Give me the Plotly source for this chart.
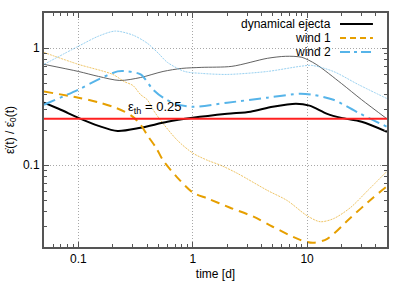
import numpy as np
import plotly.graph_objects as go

# ---------------- data ----------------
eps_th = 0.25

t_dyn = [0.05, 0.07, 0.1, 0.15, 0.22, 0.35, 0.6, 1.0, 2.0, 3.2, 5.0, 8.0, 10.5, 15, 20, 30, 50]
dyn = [0.342, 0.298, 0.254, 0.217, 0.196, 0.209, 0.235, 0.254, 0.275, 0.287, 0.316, 0.336,
       0.323, 0.275, 0.254, 0.235, 0.193]

t_dyn_thin = [0.05, 0.1, 0.15, 0.23, 0.35, 0.55, 0.8, 1.2, 2.2, 4.5, 6.5, 9, 12, 20, 30, 50]
dyn_thin = [0.728, 0.633, 0.574, 0.530, 0.562, 0.633, 0.672, 0.686, 0.700, 0.820, 0.853,
            0.836, 0.728, 0.499, 0.363, 0.249]

t_w1 = [0.05, 0.1, 0.15, 0.2, 0.25, 0.3, 0.35, 0.4, 0.48, 0.55, 0.73, 1.0, 1.35, 2.1, 3.4,
        5.0, 8.7, 11.3, 15, 24, 38, 50]
w1 = [0.426, 0.378, 0.345, 0.316, 0.289, 0.259, 0.222, 0.181, 0.140, 0.110, 0.0788, 0.0585,
      0.052, 0.0435, 0.0363, 0.0298, 0.0230, 0.0217, 0.0235, 0.0356, 0.053, 0.066]

t_w1_thin = [0.05, 0.1, 0.2, 0.25, 0.3, 0.35, 0.4, 0.45, 0.52, 0.73, 1.0, 1.35, 1.75, 2.45,
             4.5, 6.7, 10, 13, 17, 24, 34, 50]
w1_thin = [0.92, 0.728, 0.597, 0.52, 0.48, 0.401, 0.363, 0.298, 0.244, 0.164, 0.127, 0.110,
           0.1, 0.0853, 0.0609, 0.0499, 0.037, 0.0329, 0.0349, 0.0435, 0.0609, 0.0888]

t_w2 = [0.05, 0.1, 0.15, 0.22, 0.27, 0.35, 0.45, 0.55, 0.7, 1.0, 2.0, 4.5, 8.7, 11, 17, 28, 50]
w2 = [0.329, 0.443, 0.541, 0.634, 0.634, 0.597, 0.443, 0.378, 0.336, 0.316, 0.342, 0.378,
      0.409, 0.401, 0.363, 0.281, 0.213]

t_w2_thin = [0.05, 0.1, 0.15, 0.21, 0.3, 0.4, 0.5, 0.6, 0.85, 1.2, 2, 4.5, 8.7, 11, 17, 28, 50]
w2_thin = [0.728, 1.04, 1.269, 1.401, 1.294, 1.104, 0.906, 0.757, 0.633, 0.609, 0.597, 0.633,
           0.700, 0.713, 0.633, 0.49, 0.371]

x_range = [0.05, 50]
y_range = [0.02, 2]
x_ticks = [0.1, 1, 10]
x_ticklabels = ["0.1", "1", "10"]
y_ticks = [0.1, 1]
y_ticklabels = ["0.1", "1"]
x_minor = [0.05, 0.06, 0.07, 0.08, 0.09, 0.2, 0.3, 0.4, 0.5, 0.6, 0.7, 0.8, 0.9,
           2, 3, 4, 5, 6, 7, 8, 9, 20, 30, 40]
y_minor = [0.03, 0.04, 0.05, 0.06, 0.07, 0.08, 0.09, 0.2, 0.3, 0.4, 0.5, 0.6, 0.7, 0.8, 0.9]

legend_names = ["dynamical ejecta", "wind 1", "wind 2"]

# ---------------- styles ----------------
BLACK = "#000000"
ORANGE = "#E69F00"
BLUE = "#56B4E9"
FONT = "Liberation Sans, Arial, sans-serif"

fig = go.Figure()

def add(t, y, color, width, dash, opacity=1.0):
    fig.add_trace(go.Scatter(x=t, y=y, mode="lines", showlegend=False, opacity=opacity,
                             line=dict(color=color, width=width, dash=dash, shape="spline",
                                       smoothing=0.8),
                             hoverinfo="skip"))

# thin companion curves
add(t_dyn_thin, dyn_thin, "#333333", 0.9, "solid", 0.85)
add(t_w1_thin, w1_thin, ORANGE, 1.0, "2px,1px", 0.6)
add(t_w2_thin, w2_thin, BLUE, 1.0, "2px,1px", 0.6)

# thick main curves
add(t_dyn, dyn, BLACK, 2, "solid")
add(t_w1, w1, ORANGE, 2, "9px,6px")
add(t_w2, w2, BLUE, 2, "12px,5px,3px,5px")

# threshold line
fig.add_shape(type="line", xref="paper", x0=0, x1=1, yref="y", y0=eps_th, y1=eps_th,
              line=dict(color="#FF2020", width=2), layer="above")

# opaque key box (covers grid only)
fig.add_shape(type="rect", xref="paper", yref="paper", x0=0.571, x1=0.995, y0=0.79, y1=0.995,
              fillcolor="white", line=dict(width=0), layer="between")

# manual key (text right-aligned, sample on the right like gnuplot)
key_rows = [0.953, 0.893, 0.833]
key_styles = [(BLACK, "solid"), (ORANGE, "6px,4px"), (BLUE, "10px,4px,3px,4px")]
for name, yy, (col, dsh) in zip(legend_names, key_rows, key_styles):
    fig.add_annotation(xref="paper", yref="paper", x=0.8426, y=yy, text=name,
                       showarrow=False, xanchor="right", yanchor="middle",
                       font=dict(family=FONT, size=12, color="black"))
    fig.add_shape(type="line", xref="paper", yref="paper", x0=0.863, x1=0.959, y0=yy, y1=yy,
                  line=dict(color=col, width=2, dash=dsh), layer="above")

fig.add_annotation(xref="paper", yref="paper", x=0.238, y=0.597,
                   text="ε<sub>th</sub> = 0.25", showarrow=False,
                   xanchor="left", yanchor="middle",
                   font=dict(family=FONT, size=13, color="black"))

axis_common = dict(
    type="log", showline=True, linecolor="#555555", linewidth=2, mirror="allticks",
    ticks="inside", ticklen=5, tickwidth=1, tickcolor="#555555", automargin=False,
    showgrid=True, gridcolor="#a8a8a8", griddash="1px,2px", gridwidth=1,
    zeroline=False, tickfont=dict(family=FONT, size=12, color="black"),
)

fig.update_layout(
    width=407, height=284, autosize=False,
    margin=dict(l=44, r=20, t=13, b=37, pad=0, autoexpand=False),
    paper_bgcolor="white", plot_bgcolor="white",
    font=dict(family=FONT, size=12, color="black"),
    xaxis=dict(axis_common, range=[np.log10(x_range[0]), np.log10(x_range[1])],
               tickmode="array", tickvals=x_ticks, ticktext=x_ticklabels,
               minor=dict(tickmode="array", tickvals=x_minor, ticks="inside", ticklen=3,
                          tickcolor="#555555", tickwidth=1, showgrid=False),
               title=dict(text="time [d]", standoff=4, font=dict(family=FONT, size=12))),
    yaxis=dict(axis_common, range=[np.log10(y_range[0]), np.log10(y_range[1])],
               tickmode="array", tickvals=y_ticks, ticktext=y_ticklabels,
               minor=dict(tickmode="array", tickvals=y_minor, ticks="inside", ticklen=3,
                          tickcolor="#555555", tickwidth=1, showgrid=False),
               title=dict(text="ε̇(t) / ε̇<sub>0</sub>(t)", standoff=6,
                          font=dict(family=FONT, size=12))),
    showlegend=False,
)

fig.write_html("out.html", config={"displayModeBar": False},
               post_script="document.body.style.margin='0px';document.body.style.padding='0px';")
